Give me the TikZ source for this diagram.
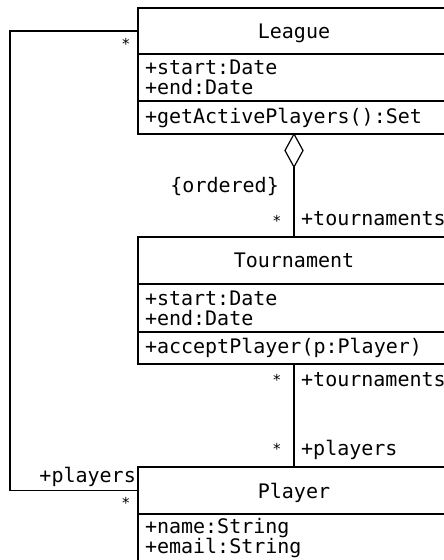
\documentclass[tikz,border=0pt]{standalone}
\usepackage{fontspec}
\newfontfamily\umlfont{DejaVu Sans Mono}
\usetikzlibrary{shapes.geometric,positioning}
\tikzset{
  cls/.style={draw, line width=1.2pt, minimum width=312pt, inner sep=0pt, outer sep=0pt, font=\umlfont\fontsize{20}{20}\selectfont},
  clsname/.style={cls, align=center, text depth=0pt},
  clsbody/.style={cls, align=left, text width=298pt, inner xsep=7pt},
  role/.style={inner sep=0pt, font=\umlfont\fontsize{20}{20}\selectfont},
  mult/.style={inner sep=0pt, anchor=base, font=\umlfont\fontsize{15}{15}\selectfont},
  link/.style={line width=1.2pt}
}

\begin{document}
\begin{tikzpicture}[x=1pt,y=-1pt]
\path[use as bounding box, clip] (0,0) rectangle (444,560);

% League
\node[clsname, minimum height=46pt, anchor=north west] (leaguename) at (138,8) {League};
\node[clsbody, minimum height=47pt, below=0pt of leaguename] (leagueattr) {+start:Date\\+end:Date};
\node[clsbody, minimum height=33pt, below=0pt of leagueattr] (leagueops) {+getActivePlayers():Set};

% Tournament
\node[clsname, minimum height=47pt, anchor=north west] (tourname) at (138,237) {Tournament};
\node[clsbody, minimum height=48pt, below=0pt of tourname] (tourattr) {+start:Date\\+end:Date};
\node[clsbody, minimum height=32pt, below=0pt of tourattr] (tourops) {+acceptPlayer(p:Player)};

% Player
\node[clsname, minimum height=47pt, anchor=north west] (playername) at (138,467) {Player};
\node[clsbody, minimum height=48pt, below=0pt of playername] (playerattr) {+name:String\\+email:String};

% aggregation League -> Tournament
\node[diamond, draw, line width=1.2pt, fill=white, inner sep=0pt, outer sep=0pt, minimum width=18pt, minimum height=33pt, anchor=north] (agg) at (leagueops.south) {};
\draw[link] (agg.south) -- (tourname.north);
\node[role, anchor=base east] (ordered) at (279,192) {\{ordered\}};
\node[mult] (m1) at (277,226) {*};
\node[role, anchor=base west] (tourrole1) at (301,225) {+tournaments};

% Tournament -- Player
\draw[link] (tourops.south) -- (playername.north);
\node[mult] (m2) at (277,385) {*};
\node[role, anchor=base west] (tourrole2) at (301,386) {+tournaments};
\node[mult] (m3) at (277,454) {*};
\node[role, anchor=base west] (playerrole1) at (301,455) {+players};

% League -- Player
\draw[link] (leaguename.west) -- ++(-128,0) |- (playername.west);
\node[mult] (m4) at (126,49) {*};
\node[role, anchor=base east] (playerrole2) at (136,482) {+players};
\node[mult] (m5) at (126,508) {*};
\end{tikzpicture}
\end{document}
